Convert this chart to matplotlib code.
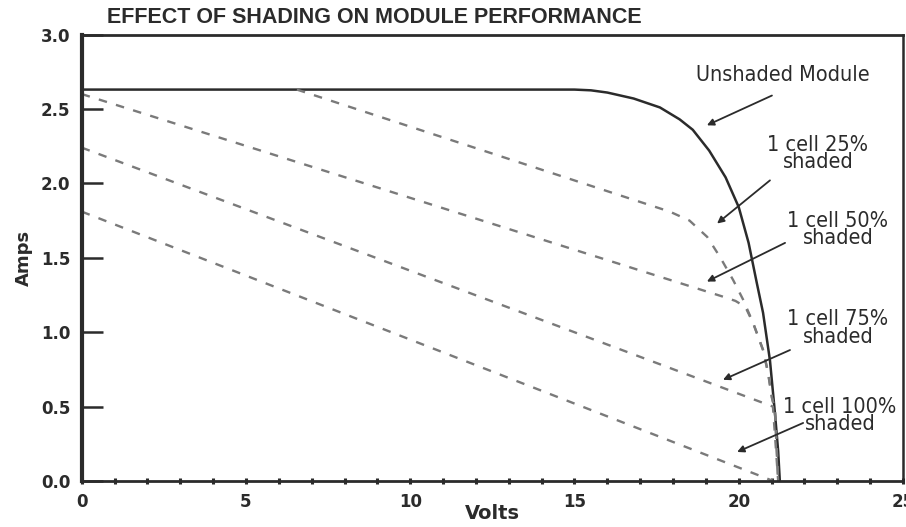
import matplotlib
matplotlib.use("Agg")
import matplotlib.pyplot as plt
from matplotlib.ticker import MultipleLocator
from matplotlib import font_manager

# Values (volts, amps)
unshaded_v = [0, 14.5, 15.0, 15.5, 16.0, 16.8, 17.6, 18.2, 18.6, 19.1, 19.6, 20.0, 20.3, 20.55, 20.74, 20.95, 21.1, 21.2, 21.25]
unshaded_a = [2.63, 2.63, 2.63, 2.625, 2.61, 2.57, 2.51, 2.43, 2.36, 2.22, 2.04, 1.84, 1.6, 1.33, 1.13, 0.81, 0.46, 0.2, 0.0]

shade25_v = [6.55, 17.0, 17.9, 18.5, 19.04, 19.43, 19.83, 20.13, 20.44, 20.74, 20.89, 21.01, 21.1, 21.2]
shade25_a = [2.63, 1.875, 1.81, 1.75, 1.64, 1.505, 1.35, 1.22, 1.06, 0.88, 0.73, 0.56, 0.48, 0.0]

shade50_v = [0, 19.5, 19.9, 20.2, 20.44, 20.74, 20.89, 21.01, 21.1, 21.2]
shade50_a = [2.60, 1.24, 1.21, 1.17, 1.06, 0.88, 0.73, 0.56, 0.48, 0.0]

shade75_v = [0, 21.04, 21.2]
shade75_a = [2.24, 0.50, 0.0]

shade100_v = [0, 21.05]
shade100_a = [1.81, 0.0]

labels = ["Unshaded Module", "1 cell 25%\nshaded", "1 cell 50%\nshaded",
          "1 cell 75%\nshaded", "1 cell 100%\nshaded"]
label_xy = [(21.35, 2.73), (22.41, 2.20), (23.02, 1.69), (23.02, 1.03), (23.08, 0.44)]
arrow_tail = [(21.01, 2.59), (20.95, 2.02), (21.41, 1.60), (21.56, 0.88), (21.96, 0.39)]
arrow_head = [(19.03, 2.39), (19.34, 1.73), (19.03, 1.34), (19.52, 0.68), (19.95, 0.195)]

ink = "#2b2b2b"
dash_col = "#7a7a7a"

# check for a condensed face, else squeeze a normal one
names = {f.name for f in font_manager.fontManager.ttflist}
if "Liberation Sans Narrow" in names:
    label_font = dict(family="Liberation Sans Narrow", fontsize=17)
else:
    label_font = dict(family="DejaVu Sans", fontstretch="condensed", fontsize=15.5)

fig = plt.figure(figsize=(9.06, 5.27), dpi=100)
ax = fig.add_axes([0.0902, 0.0873, 0.9065, 0.8472])

ax.plot(unshaded_v, unshaded_a, color=ink, lw=1.8, solid_capstyle="butt")
for v, a in [(shade25_v, shade25_a), (shade50_v, shade50_a),
             (shade75_v, shade75_a), (shade100_v, shade100_a)]:
    ln, = ax.plot(v, a, color=dash_col, lw=1.7)
    ln.set_dashes((3.6, 4.0))

for txt, pos, tail, head in zip(labels, label_xy, arrow_tail, arrow_head):
    ax.text(pos[0], pos[1], txt, ha="center", va="center", color=ink,
            linespacing=0.85, **label_font)
    ax.annotate("", xy=head, xytext=tail,
                arrowprops=dict(arrowstyle="-|>", color=ink, lw=1.3,
                                mutation_scale=10, shrinkA=0, shrinkB=0))

ax.set_xlim(0, 25)
ax.set_ylim(0, 3.0)
ax.xaxis.set_major_locator(MultipleLocator(5))
ax.xaxis.set_minor_locator(MultipleLocator(1))

ax.tick_params(axis="y", direction="in", length=15, width=1.8, color=ink,
               labelsize=12, pad=8, labelcolor=ink)
ax.tick_params(axis="x", which="both", direction="inout", length=5, width=2.2,
               color=ink, labelsize=12, pad=6, labelcolor=ink)
ax.tick_params(top=False, right=False)
ax.set_yticks([0, 0.5, 1.0, 1.5, 2.0, 2.5, 3.0])
ax.set_yticklabels(["0.0", "0.5", "1.0", "1.5", "2.0", "2.5", "3.0"], fontweight="bold")
ax.set_xticks([0, 5, 10, 15, 20, 25])
ax.set_xticklabels(["0", "5", "10", "15", "20", "25"], fontweight="bold")

for side, w in [("left", 3.0), ("bottom", 2.0), ("top", 2.0), ("right", 1.8)]:
    ax.spines[side].set_linewidth(w)
    ax.spines[side].set_color(ink)

ax.set_xlabel("Volts", fontsize=14, fontweight="bold", color=ink, labelpad=-5)
ax.set_ylabel("Amps", fontsize=13, fontweight="bold", color=ink, labelpad=6)

fig.text(0.118, 0.966, "EFFECT OF SHADING ON MODULE PERFORMANCE", fontsize=15.5,
         family="Liberation Sans", fontweight="bold", color=ink, va="center", ha="left")

fig.savefig("out.png", dpi=100, facecolor="white")
